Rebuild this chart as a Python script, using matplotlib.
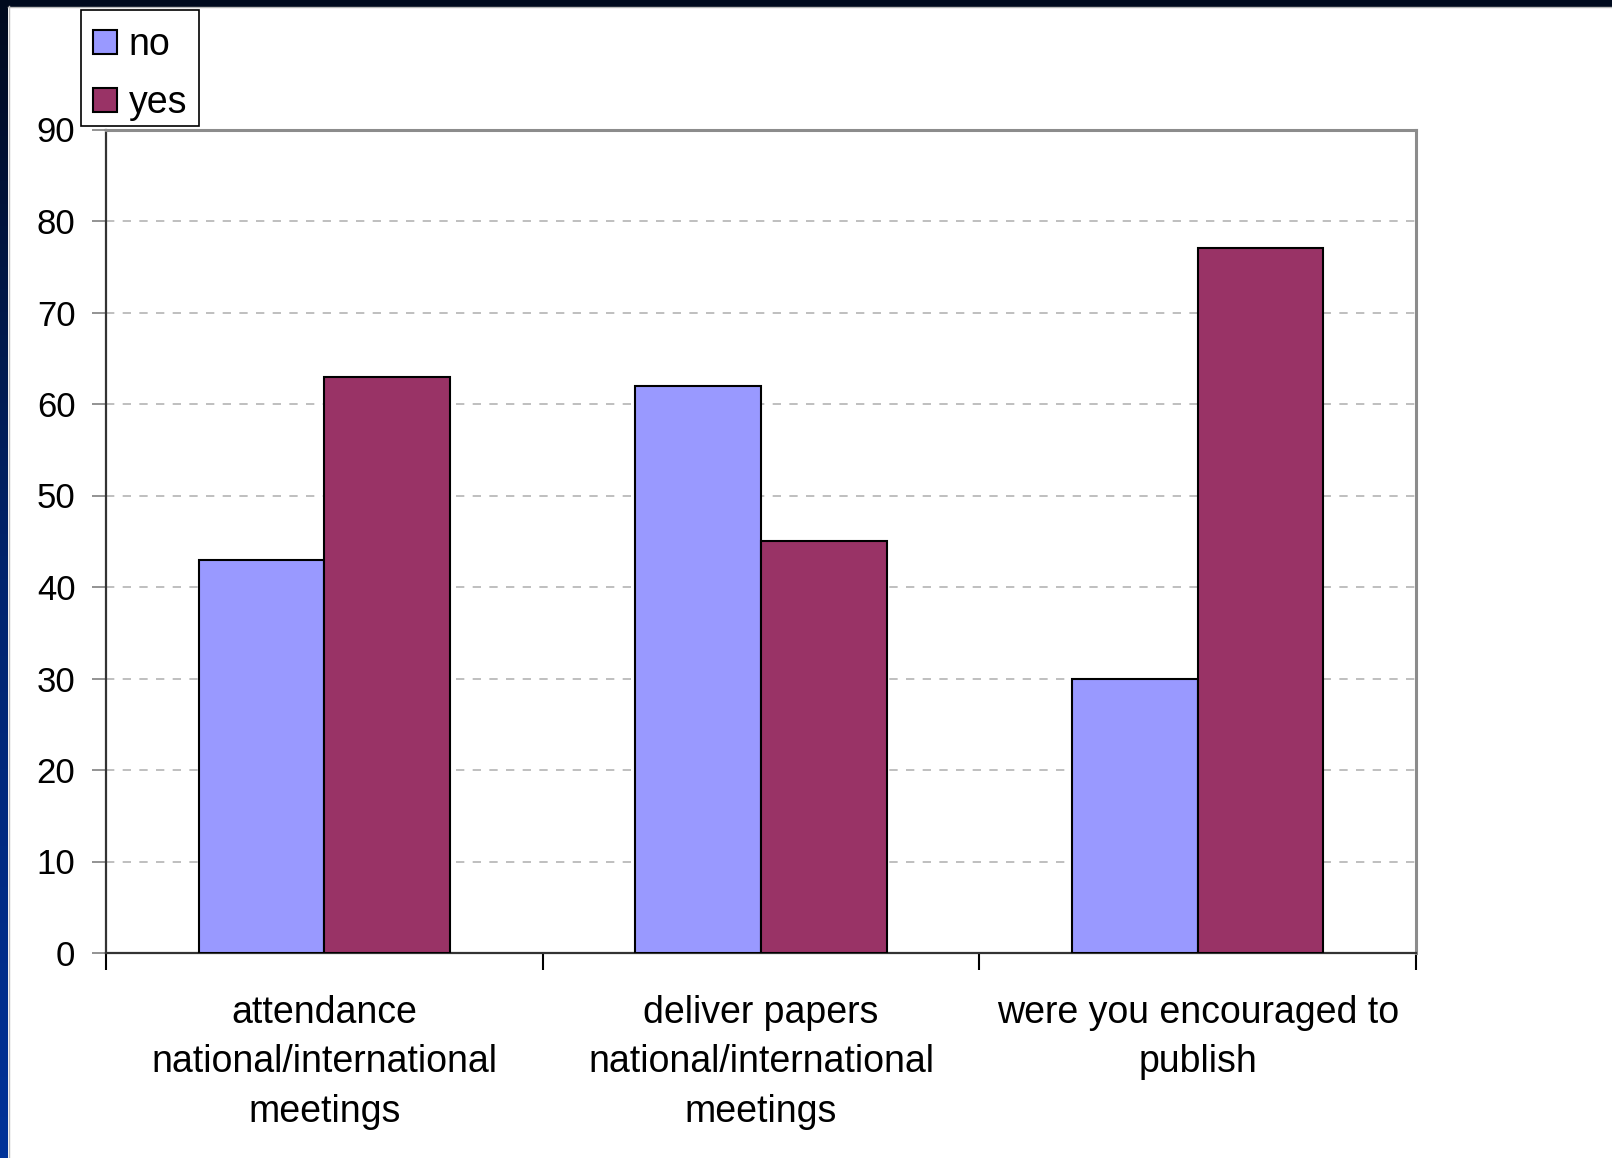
import numpy as np
import matplotlib
matplotlib.use("Agg")
import matplotlib.pyplot as plt
from matplotlib.colors import LinearSegmentedColormap
from matplotlib.patches import Rectangle

plt.rcParams['font.family'] = ['Liberation Sans', 'DejaVu Sans']

# data
categories = ["attendance\nnational/international\nmeetings",
              "deliver papers\nnational/international\nmeetings",
              "were you encouraged to\npublish"]
no_values = [43, 62, 30]
yes_values = [63, 45, 77]
y_ticks = [0, 10, 20, 30, 40, 50, 60, 70, 80, 90]

W, H = 1612, 1158
fig = plt.figure(figsize=(W / 100, H / 100), dpi=100)
fig.patch.set_facecolor("white")

# dark slide frame: gradient strip on the left, dark band on top
bg = fig.add_axes([0, 0, 1, 1], zorder=-10)
bg.set_xlim(0, W)
bg.set_ylim(H, 0)
bg.axis("off")
cmap = LinearSegmentedColormap.from_list("frame", ["#000a1e", "#00246e", "#003399"])
grad = np.linspace(0, 1, 256).reshape(-1, 1)
bg.imshow(grad, cmap=cmap, extent=[0, 8, H, 0], aspect="auto")
bg.fill_between([0, W], 0, 6, color="#000a1e")
bg.plot([8.5, 8.5], [6, H], color="#bbbbbb", lw=1)
bg.plot([8, W], [6.5, 6.5], color="#bbbbbb", lw=1)

ax = fig.add_axes([106 / W, 1 - 953 / H, (1416 - 106) / W, (953 - 129.5) / H])

x = np.arange(len(categories))
w = 0.288
b1 = ax.bar(x - w / 2, no_values, w, color="#9999ff", edgecolor="black", lw=1.5, label="no", zorder=3)
b2 = ax.bar(x + w / 2, yes_values, w, color="#993366", edgecolor="black", lw=1.5, label="yes", zorder=3)

ax.set_xlim(-0.5, 2.5)
ax.set_ylim(0, 90)
ax.set_yticks(y_ticks)
ax.tick_params(axis="y", labelsize=25, length=10, width=1.2, color="#808080", pad=12)
ax.yaxis.grid(True, ls=(0, (5, 5)), color="#b4b4b4", lw=1.2, zorder=0)

ax.set_xticks([-0.5, 0.5, 1.5, 2.5])
ax.set_xticklabels([])
ax.tick_params(axis="x", length=12, width=1.5, color="black")
ax.set_xticks(x, minor=True)
ax.set_xticklabels(categories, minor=True, fontsize=27, linespacing=1.48)
ax.tick_params(axis="x", which="minor", length=0, pad=30)
for lab in ax.get_xticklabels(minor=True):
    lab.set_va("top")

for s in ["left", "bottom"]:
    ax.spines[s].set_color("#333333")
    ax.spines[s].set_linewidth(1.6)
for s in ["top", "right"]:
    ax.spines[s].set_color("#8c8c8c")
    ax.spines[s].set_linewidth(2.2)

# legend entries, box drawn separately
leg = fig.legend(handles=[b1, b2], labels=["no", "yes"], loc="upper left",
                 bbox_to_anchor=(79 / W, 1 - 13 / H), fontsize=27,
                 frameon=False,
                 handlelength=0.62, handleheight=0.62, handletextpad=0.33,
                 labelspacing=0.58, borderpad=0.38, borderaxespad=0)
fig.add_artist(Rectangle((81 / W, 1 - 126 / H), 118 / W, 116 / H,
                         transform=fig.transFigure, facecolor="none",
                         edgecolor="black", lw=1.2, zorder=10))

plt.savefig("out.png", dpi=100)
